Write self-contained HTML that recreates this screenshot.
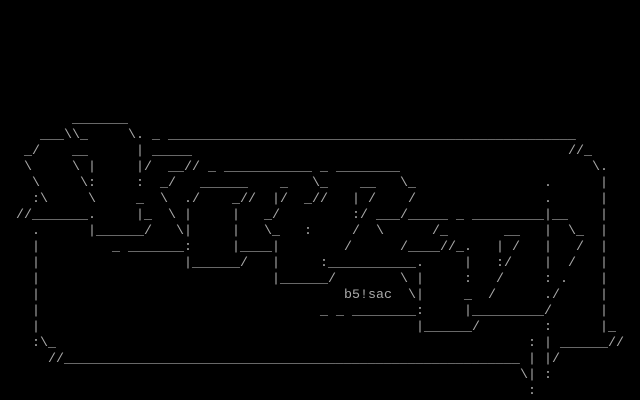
<!DOCTYPE html>
<html><head><meta charset="utf-8"><style>
html,body{margin:0;padding:0;background:#000;}
#c{position:relative;width:640px;height:400px;overflow:hidden;background:#000;}
#c span{position:absolute;font-family:"Liberation Mono",monospace;font-size:13.333px;line-height:16px;height:16px;color:#aaa;white-space:pre;}
</style></head><body><div id="c">
<script>
</script>
</div>
<div style="display:none"></div>
<script></script>
<style></style>
<div id="x"></div>
<script>
</script>
<noscript></noscript>
<div style="position:absolute;left:0;top:0;width:640px;height:400px;font-family:'Liberation Mono',monospace;font-size:13.333px;line-height:16px;color:#aaa;white-space:pre;">
<span style="position:absolute;left:72px;top:112px">_______</span>
<span style="position:absolute;left:40px;top:128px">___\\_</span>
<span style="position:absolute;left:128px;top:128px">\.</span>
<span style="position:absolute;left:152px;top:128px">_</span>
<span style="position:absolute;left:168px;top:128px">___________________________________________________</span>
<span style="position:absolute;left:24px;top:144px">_/</span>
<span style="position:absolute;left:72px;top:144px">__</span>
<span style="position:absolute;left:136px;top:144px">|</span>
<span style="position:absolute;left:152px;top:144px">_____</span>
<span style="position:absolute;left:568px;top:144px">//_</span>
<span style="position:absolute;left:24px;top:160px">\</span>
<span style="position:absolute;left:72px;top:160px">\</span>
<span style="position:absolute;left:88px;top:160px">|</span>
<span style="position:absolute;left:136px;top:160px">|/</span>
<span style="position:absolute;left:168px;top:160px">__//</span>
<span style="position:absolute;left:208px;top:160px">_</span>
<span style="position:absolute;left:224px;top:160px">___________</span>
<span style="position:absolute;left:320px;top:160px">_</span>
<span style="position:absolute;left:336px;top:160px">________</span>
<span style="position:absolute;left:592px;top:160px">\.</span>
<span style="position:absolute;left:32px;top:176px">\</span>
<span style="position:absolute;left:80px;top:176px">\:</span>
<span style="position:absolute;left:136px;top:176px">:</span>
<span style="position:absolute;left:160px;top:176px">_/</span>
<span style="position:absolute;left:200px;top:176px">______</span>
<span style="position:absolute;left:280px;top:176px">_</span>
<span style="position:absolute;left:312px;top:176px">\_</span>
<span style="position:absolute;left:360px;top:176px">__</span>
<span style="position:absolute;left:400px;top:176px">\_</span>
<span style="position:absolute;left:544px;top:176px">.</span>
<span style="position:absolute;left:600px;top:176px">|</span>
<span style="position:absolute;left:32px;top:192px">:\</span>
<span style="position:absolute;left:88px;top:192px">\</span>
<span style="position:absolute;left:136px;top:192px">_</span>
<span style="position:absolute;left:160px;top:192px">\</span>
<span style="position:absolute;left:184px;top:192px">./</span>
<span style="position:absolute;left:232px;top:192px">_//</span>
<span style="position:absolute;left:272px;top:192px">|/</span>
<span style="position:absolute;left:304px;top:192px">_//</span>
<span style="position:absolute;left:352px;top:192px">|</span>
<span style="position:absolute;left:368px;top:192px">/</span>
<span style="position:absolute;left:408px;top:192px">/</span>
<span style="position:absolute;left:544px;top:192px">.</span>
<span style="position:absolute;left:600px;top:192px">|</span>
<span style="position:absolute;left:16px;top:208px">//_______.</span>
<span style="position:absolute;left:136px;top:208px">|_</span>
<span style="position:absolute;left:168px;top:208px">\</span>
<span style="position:absolute;left:184px;top:208px">|</span>
<span style="position:absolute;left:232px;top:208px">|</span>
<span style="position:absolute;left:264px;top:208px">_/</span>
<span style="position:absolute;left:352px;top:208px">:/</span>
<span style="position:absolute;left:376px;top:208px">___/_____</span>
<span style="position:absolute;left:456px;top:208px">_</span>
<span style="position:absolute;left:472px;top:208px">_________|__</span>
<span style="position:absolute;left:600px;top:208px">|</span>
<span style="position:absolute;left:32px;top:224px">.</span>
<span style="position:absolute;left:88px;top:224px">|______/</span>
<span style="position:absolute;left:176px;top:224px">\|</span>
<span style="position:absolute;left:232px;top:224px">|</span>
<span style="position:absolute;left:264px;top:224px">\_</span>
<span style="position:absolute;left:304px;top:224px">:</span>
<span style="position:absolute;left:352px;top:224px">/</span>
<span style="position:absolute;left:376px;top:224px">\</span>
<span style="position:absolute;left:432px;top:224px">/_</span>
<span style="position:absolute;left:504px;top:224px">__</span>
<span style="position:absolute;left:544px;top:224px">|</span>
<span style="position:absolute;left:568px;top:224px">\_</span>
<span style="position:absolute;left:600px;top:224px">|</span>
<span style="position:absolute;left:32px;top:240px">|</span>
<span style="position:absolute;left:112px;top:240px">_</span>
<span style="position:absolute;left:128px;top:240px">_______:</span>
<span style="position:absolute;left:232px;top:240px">|____|</span>
<span style="position:absolute;left:344px;top:240px">/</span>
<span style="position:absolute;left:400px;top:240px">/____//_.</span>
<span style="position:absolute;left:496px;top:240px">|</span>
<span style="position:absolute;left:512px;top:240px">/</span>
<span style="position:absolute;left:544px;top:240px">|</span>
<span style="position:absolute;left:576px;top:240px">/</span>
<span style="position:absolute;left:600px;top:240px">|</span>
<span style="position:absolute;left:32px;top:256px">|</span>
<span style="position:absolute;left:184px;top:256px">|______/</span>
<span style="position:absolute;left:272px;top:256px">|</span>
<span style="position:absolute;left:320px;top:256px">:___________.</span>
<span style="position:absolute;left:464px;top:256px">|</span>
<span style="position:absolute;left:496px;top:256px">:/</span>
<span style="position:absolute;left:544px;top:256px">|</span>
<span style="position:absolute;left:568px;top:256px">/</span>
<span style="position:absolute;left:600px;top:256px">|</span>
<span style="position:absolute;left:32px;top:272px">|</span>
<span style="position:absolute;left:272px;top:272px">|______/</span>
<span style="position:absolute;left:400px;top:272px">\</span>
<span style="position:absolute;left:416px;top:272px">|</span>
<span style="position:absolute;left:464px;top:272px">:</span>
<span style="position:absolute;left:496px;top:272px">/</span>
<span style="position:absolute;left:544px;top:272px">:</span>
<span style="position:absolute;left:560px;top:272px">.</span>
<span style="position:absolute;left:600px;top:272px">|</span>
<span style="position:absolute;left:32px;top:288px">|</span>
<span style="position:absolute;left:344px;top:288px">b5!sac</span>
<span style="position:absolute;left:408px;top:288px">\|</span>
<span style="position:absolute;left:464px;top:288px">_</span>
<span style="position:absolute;left:488px;top:288px">/</span>
<span style="position:absolute;left:544px;top:288px">./</span>
<span style="position:absolute;left:600px;top:288px">|</span>
<span style="position:absolute;left:32px;top:304px">|</span>
<span style="position:absolute;left:320px;top:304px">_ _ ________:</span>
<span style="position:absolute;left:464px;top:304px">|_________/</span>
<span style="position:absolute;left:600px;top:304px">|</span>
<span style="position:absolute;left:32px;top:320px">|</span>
<span style="position:absolute;left:416px;top:320px">|______/</span>
<span style="position:absolute;left:544px;top:320px">:</span>
<span style="position:absolute;left:600px;top:320px">|_</span>
<span style="position:absolute;left:32px;top:336px">:\_</span>
<span style="position:absolute;left:528px;top:336px">:</span>
<span style="position:absolute;left:544px;top:336px">|</span>
<span style="position:absolute;left:560px;top:336px">______//</span>
<span style="position:absolute;left:48px;top:352px">//_________________________________________________________</span>
<span style="position:absolute;left:528px;top:352px">|</span>
<span style="position:absolute;left:544px;top:352px">|/</span>
<span style="position:absolute;left:520px;top:368px">\|</span>
<span style="position:absolute;left:544px;top:368px">:</span>
<span style="position:absolute;left:528px;top:384px">:</span>
</div>
</body></html>
